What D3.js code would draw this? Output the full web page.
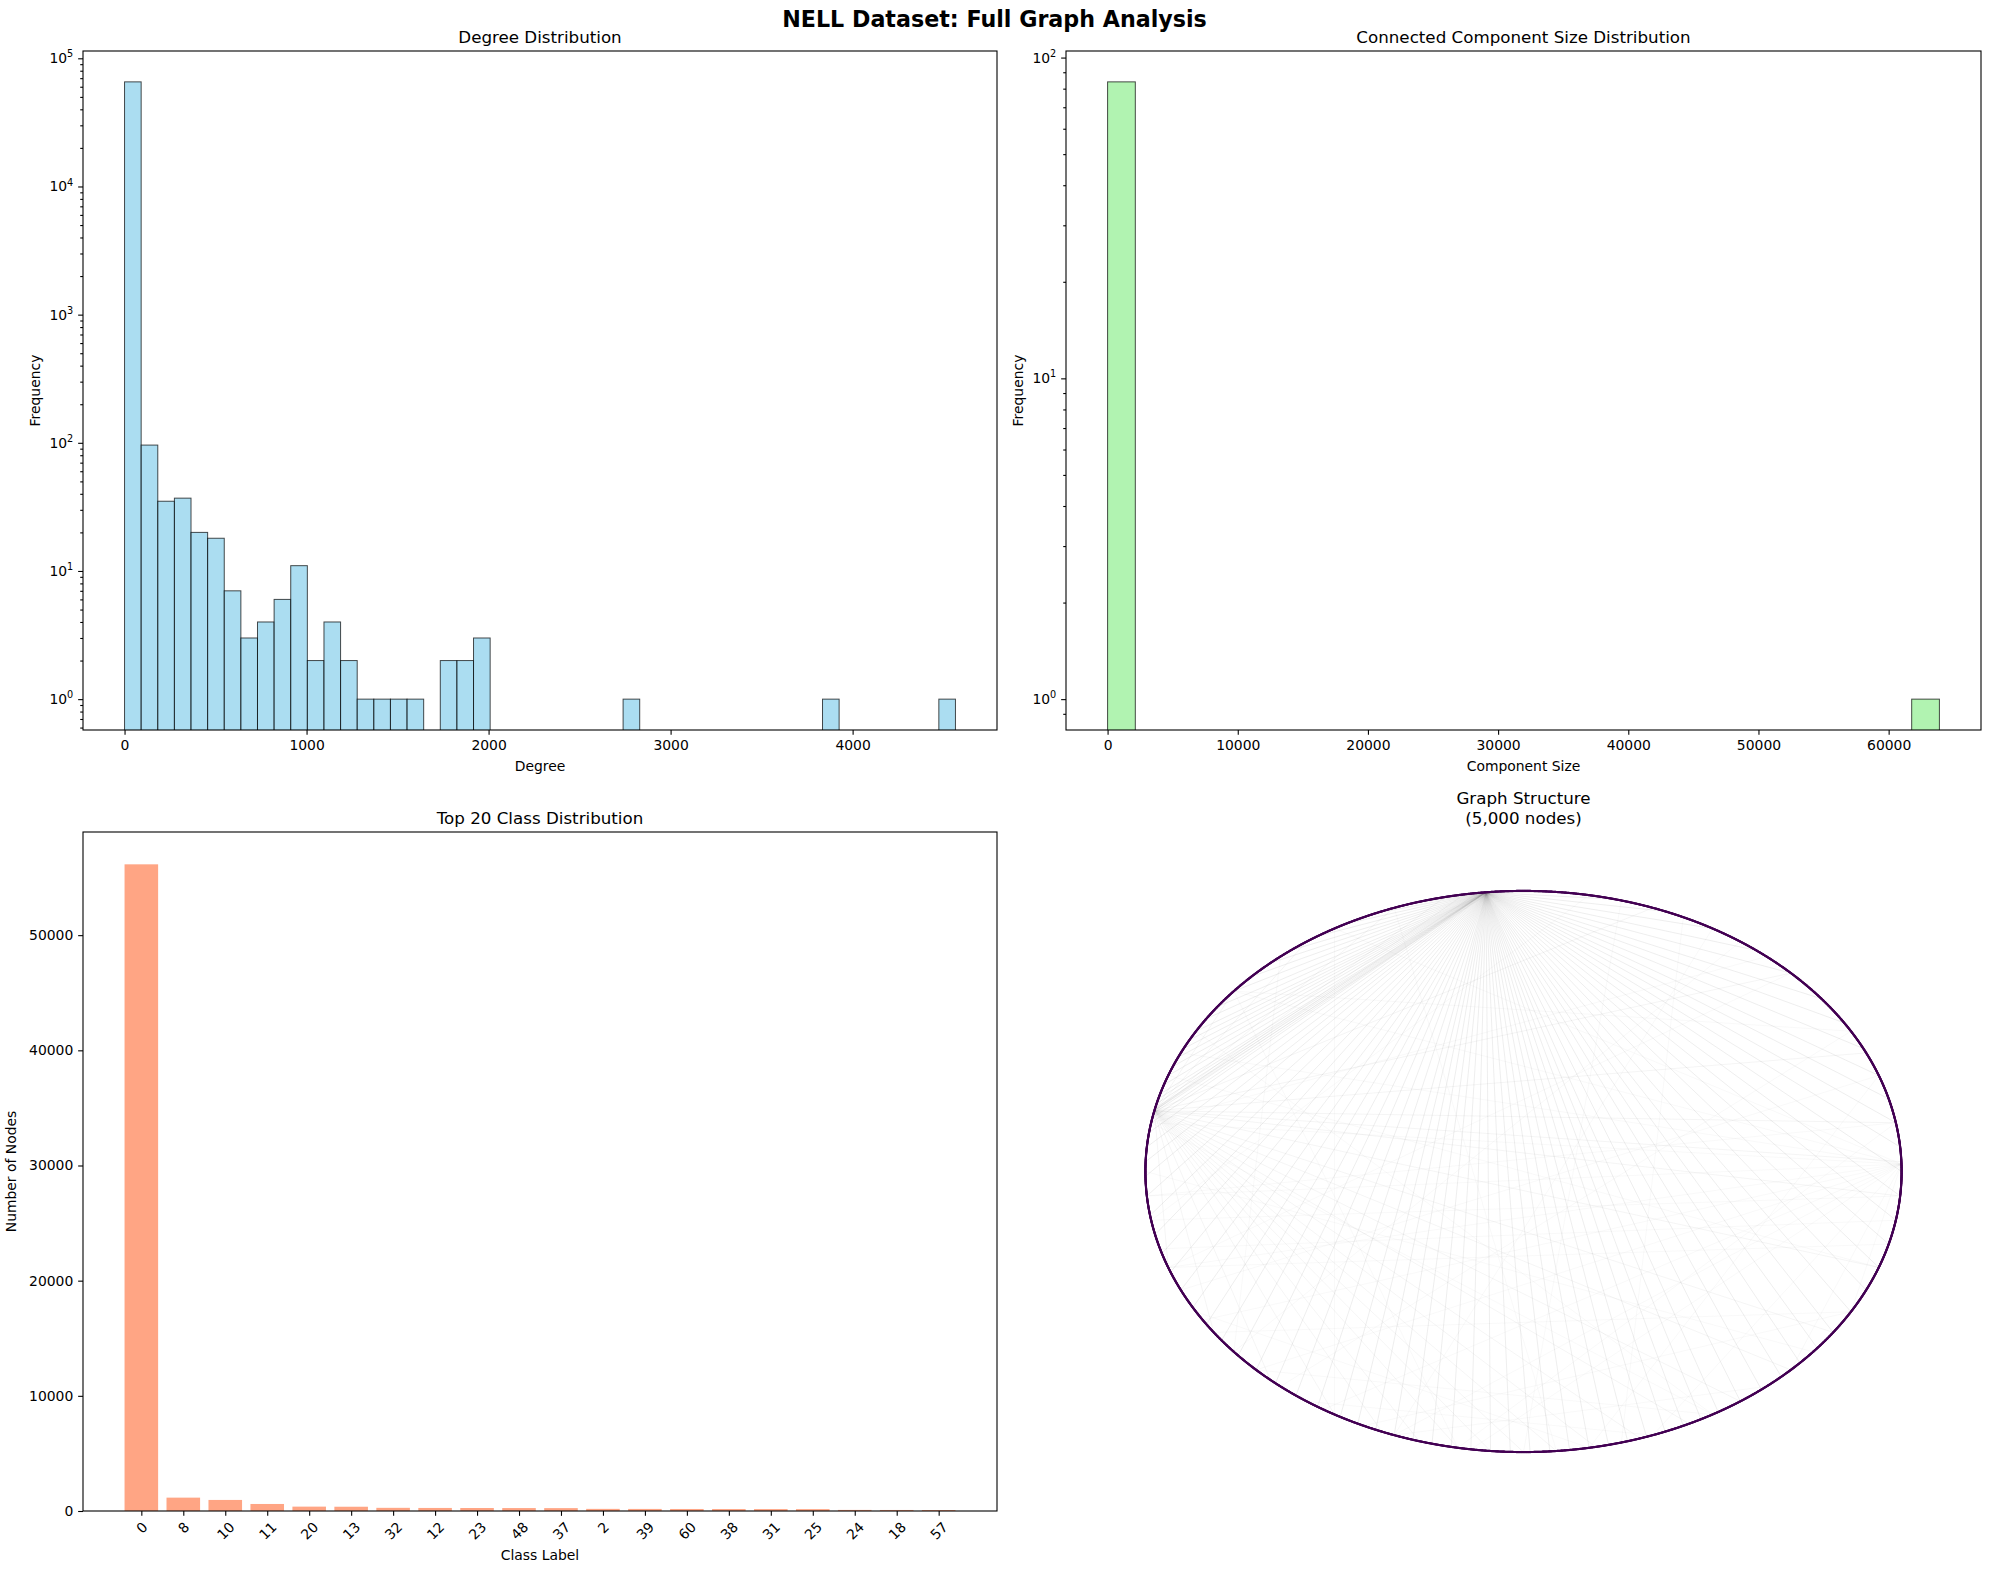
<!DOCTYPE html>
<html lang="en">
<head>
<meta charset="utf-8">
<script src="https://d3js.org/d3.v7.min.js"></script>
<title>NELL Dataset: Full Graph Analysis</title>
<style>
  body { margin: 0; background: #fff; }
  svg { font-family: "DejaVu Sans", sans-serif; }
</style>
</head>
<body>
<div id="chart"></div>
<script>

  // ---- data ----

  // degree histogram: 50 equal bins between min and max degree
  const degreeRange = [0, 4565];
  const degreeCounts = [65496, 96, 35, 37, 20, 18, 7, 3, 4, 6,
                        11, 2, 4, 2, 1, 1, 1, 1, 0, 2,
                        2, 3, 0, 0, 0, 0, 0, 0, 0, 0,
                        1, 0, 0, 0, 0, 0, 0, 0, 0, 0,
                        0, 0, 1, 0, 0, 0, 0, 0, 0, 1];
  const degreeXTicks = [0, 1000, 2000, 3000, 4000];
  const degreeYTicks = [1, 10, 100, 1000, 10000, 100000];

  // connected component sizes: 30 equal bins
  const componentRange = [1, 63900];
  const componentCounts = [84, 0, 0, 0, 0, 0, 0, 0, 0, 0,
                           0, 0, 0, 0, 0, 0, 0, 0, 0, 0,
                           0, 0, 0, 0, 0, 0, 0, 0, 0, 1];
  const componentXTicks = [0, 10000, 20000, 30000, 40000, 50000, 60000];
  const componentYTicks = [1, 10, 100];

  // top 20 classes
  const classLabels = ["0", "8", "10", "11", "20", "13", "32", "12", "23", "48",
                       "37", "2", "39", "60", "38", "31", "25", "24", "18", "57"];
  const classCounts = [56150, 1160, 960, 610, 380, 370, 275, 265, 260, 255,
                       250, 185, 180, 175, 170, 168, 165, 95, 90, 85];
  const classYTicks = [0, 10000, 20000, 30000, 40000, 50000];

  // sampled graph, circular layout: node count and edges as ring positions (degrees)
  const nodeCount = 5000;
  const hubA = 95.7;
  const hubATargets = [100, 104, 108, 113, 118, 123, 128, 132, 136, 140, 144, 147, 150, 152, 154,
                       156, 158, 160, 162, 164, 165, 166, 167, 168, 169, 170, 172, 175, 178, 181,
                       185, 189, 193, 197, 201, 205, 209, 213, 217, 221, 225, 229, 233, 237, 241,
                       244, 247, 250, 253, 256, 259, 262, 265, 268, 271, 274, 277, 280, 283, 286,
                       289, 292, 295, 298, 301, 305, 309, 313, 317, 321, 325, 330, 335, 340, 345,
                       350, 355, 0, 5, 10, 15, 20, 26, 32, 38, 45, 52, 60, 68, 76, 84, 90];
  const hubB = 167.5;
  const hubBTargets = [95, 97, 99, 102, 110, 125, 140, 200, 215, 228, 240, 248, 254, 260, 265,
                       270, 275, 281, 288, 296, 305, 315, 325, 340, 355, 2, 10, 25, 45, 70];
  const hubC = 1.5;
  const hubCTargets = [120, 140, 155, 170, 185, 200, 212, 225, 238, 250, 262, 290, 315, 330];
  const otherEdges = [[200, 345], [185, 10], [215, 330], [140, 260], [225, 300], [160, 340],
                      [120, 240], [60, 250], [45, 200], [30, 230], [75, 270], [250, 310],
                      [210, 280], [170, 300], [190, 355], [80, 190], [130, 220], [20, 280],
                      [10, 260], [50, 170], [196, 350], [205, 20], [180, 320], [235, 290],
                      [110, 275], [150, 300], [245, 330], [55, 220], [65, 285], [140, 30]];

  // ---- layout ----
  const W = 1989, H = 1573;
  const tickLen = 4.86, tickPad = 4.86, tickFont = "13.9px", titleFont = "16.7px";

  const boxDeg = { x0: 83, x1: 997, y0: 51, y1: 730 };
  const boxComp = { x0: 1066, x1: 1981, y0: 51, y1: 730 };
  const boxCls = { x0: 83, x1: 997, y0: 832, y1: 1511 };
  const boxGraph = { x0: 1066, x1: 1981, y0: 832, y1: 1511 };

  const svg = d3.select("#chart")
    .append("svg")
    .attr("width", W)
    .attr("height", H);

  svg.append("rect").attr("width", W).attr("height", H).attr("fill", "#fff");

  const defs = svg.append("defs");
  function clipFor(id, b) {
    defs.append("clipPath").attr("id", id)
      .append("rect")
      .attr("x", b.x0).attr("y", b.y0)
      .attr("width", b.x1 - b.x0).attr("height", b.y1 - b.y0);
    return `url(#${id})`;
  }

  function frame(b) {
    svg.append("rect")
      .attr("x", b.x0).attr("y", b.y0)
      .attr("width", b.x1 - b.x0).attr("height", b.y1 - b.y0)
      .attr("fill", "none").attr("stroke", "#000").attr("stroke-width", 1.1);
  }

  function styleAxis(g) {
    g.attr("font-size", null).attr("font-family", null);
    g.select(".domain").remove();
    g.selectAll(".tick line").attr("stroke", "#000").attr("stroke-width", 1.1);
    g.selectAll("text").attr("fill", "#000")
      .style("font-size", tickFont)
      .style("font-family", "'DejaVu Sans', sans-serif");
  }

  function title(text, cx, y) {
    svg.append("text").attr("x", cx).attr("y", y)
      .attr("text-anchor", "middle")
      .style("font-size", titleFont)
      .text(text);
  }

  function xLabel(text, cx, cy) {
    svg.append("text").attr("x", cx).attr("y", cy).attr("dy", "0.35em")
      .attr("text-anchor", "middle").style("font-size", tickFont).text(text);
  }

  function yLabel(text, cx, cy) {
    svg.append("text").attr("transform", `translate(${cx},${cy}) rotate(-90)`)
      .attr("dy", "0.35em")
      .attr("text-anchor", "middle").style("font-size", tickFont).text(text);
  }

  // log y axis with 10^n labels and minor ticks
  function logYAxis(b, y, majors) {
    const [lo, hi] = y.domain();
    const minors = [];
    for (let e = Math.floor(Math.log10(lo)); e <= Math.ceil(Math.log10(hi)); e++) {
      for (let k = 2; k < 10; k++) {
        const m = k * Math.pow(10, e);
        if (m >= lo && m <= hi) minors.push(m);
      }
    }
    svg.append("g").attr("transform", `translate(${b.x0},0)`)
      .call(d3.axisLeft(y).tickValues(minors).tickSize(2.78).tickFormat(""))
      .call(styleAxis);
    const g = svg.append("g").attr("transform", `translate(${b.x0},0)`)
      .call(d3.axisLeft(y).tickValues(majors).tickSize(tickLen).tickPadding(tickPad).tickFormat(""))
      .call(styleAxis);
    g.selectAll(".tick text").each(function (d) {
      const t = d3.select(this);
      t.append("tspan").text("10");
      t.append("tspan").attr("dy", "-0.6em").style("font-size", "9.7px")
        .text(Math.round(Math.log10(d)));
    });
  }

  function histogram(b, range, counts, ticksX, ticksY, fill, clipId) {
    const span = range[1] - range[0];
    const x = d3.scaleLinear()
      .domain([range[0] - 0.05 * span, range[1] + 0.05 * span])
      .range([b.x0, b.x1]);
    const L = Math.log10(d3.max(counts));
    const y = d3.scaleLog()
      .domain([Math.pow(10, -0.05 * L), Math.pow(10, 1.05 * L)])
      .range([b.y1, b.y0]);
    const bw = span / counts.length;
    const bins = counts.map((c, i) => ({ c, lo: range[0] + i * bw, hi: range[0] + (i + 1) * bw }))
      .filter(d => d.c > 0);

    svg.append("g").attr("clip-path", clipFor(clipId, b))
      .selectAll("rect")
      .data(bins)
      .join("rect")
      .attr("x", d => x(d.lo))
      .attr("y", d => y(d.c))
      .attr("width", d => x(d.hi) - x(d.lo))
      .attr("height", d => b.y1 + 2 - y(d.c))
      .attr("fill", fill)
      .attr("fill-opacity", 0.7)
      .attr("stroke", "#000")
      .attr("stroke-opacity", 0.7)
      .attr("stroke-width", 1);

    svg.append("g").attr("transform", `translate(0,${b.y1})`)
      .call(d3.axisBottom(x).tickValues(ticksX).tickSize(tickLen).tickPadding(tickPad).tickFormat(d3.format("d")))
      .call(styleAxis);
    logYAxis(b, y, ticksY);
    frame(b);
  }

  // suptitle
  svg.append("text")
    .attr("x", W / 2).attr("y", 27)
    .attr("text-anchor", "middle")
    .style("font-size", "22.2px").style("font-weight", "bold")
    .text("NELL Dataset: Full Graph Analysis");

  // ---- panel 1: degree distribution ----
  histogram(boxDeg, degreeRange, degreeCounts, degreeXTicks, degreeYTicks, "skyblue", "clipDeg");
  title("Degree Distribution", (boxDeg.x0 + boxDeg.x1) / 2, boxDeg.y0 - 8.3);
  xLabel("Degree", (boxDeg.x0 + boxDeg.x1) / 2, 765.7);
  yLabel("Frequency", 35, (boxDeg.y0 + boxDeg.y1) / 2);

  // ---- panel 2: component sizes ----
  histogram(boxComp, componentRange, componentCounts, componentXTicks, componentYTicks, "lightgreen", "clipComp");
  title("Connected Component Size Distribution", (boxComp.x0 + boxComp.x1) / 2, boxComp.y0 - 8.3);
  xLabel("Component Size", (boxComp.x0 + boxComp.x1) / 2, 765.7);
  yLabel("Frequency", 1018, (boxComp.y0 + boxComp.y1) / 2);

  // ---- panel 3: top 20 classes ----
  const n = classLabels.length;
  const pad = 0.05 * (n - 1 + 0.8);
  const cx = d3.scaleLinear()
    .domain([-0.4 - pad, n - 1 + 0.4 + pad])
    .range([boxCls.x0, boxCls.x1]);
  const cy = d3.scaleLinear()
    .domain([0, d3.max(classCounts) * 1.05])
    .range([boxCls.y1, boxCls.y0]);

  svg.append("g")
    .selectAll("rect")
    .data(classCounts)
    .join("rect")
    .attr("x", (d, i) => cx(i - 0.4))
    .attr("y", d => cy(d))
    .attr("width", cx(0.4) - cx(-0.4))
    .attr("height", d => cy(0) - cy(d))
    .attr("fill", "coral")
    .attr("fill-opacity", 0.7);

  const clsX = svg.append("g").attr("transform", `translate(0,${boxCls.y1})`)
    .call(d3.axisBottom(cx).tickValues(d3.range(n)).tickSize(tickLen).tickPadding(tickPad)
      .tickFormat(i => classLabels[i]))
    .call(styleAxis);
  clsX.selectAll(".tick text").each(function () {
    const t = d3.select(this);
    const w = this.getComputedTextLength();
    const c = tickLen + tickPad + (w + 11) * 0.707 / 2;
    t.attr("y", c).attr("dy", "0.35em").attr("text-anchor", "middle")
      .attr("transform", `rotate(-45,0,${c})`);
  });

  svg.append("g").attr("transform", `translate(${boxCls.x0},0)`)
    .call(d3.axisLeft(cy).tickValues(classYTicks).tickSize(tickLen).tickPadding(tickPad).tickFormat(d3.format("d")))
    .call(styleAxis);
  frame(boxCls);
  title("Top 20 Class Distribution", (boxCls.x0 + boxCls.x1) / 2, boxCls.y0 - 8.3);
  xLabel("Class Label", (boxCls.x0 + boxCls.x1) / 2, 1555);
  yLabel("Number of Nodes", 11.5, (boxCls.y0 + boxCls.y1) / 2);

  // ---- panel 4: graph structure (circular layout) ----
  const gx = d3.scaleLinear().domain([-1.21, 1.21]).range([boxGraph.x0, boxGraph.x1]);
  const gy = d3.scaleLinear().domain([-1.21, 1.21]).range([boxGraph.y1, boxGraph.y0]);
  const rad = deg => deg * Math.PI / 180;

  // hub edges a bit stronger, the rest fainter
  const edges = [
    ...hubATargets.map(t => [hubA, t, 0.2]),
    ...hubBTargets.map(t => [hubB, t, 0.12]),
    ...hubCTargets.map(t => [hubC, t, 0.08]),
    ...otherEdges.map(e => [e[0], e[1], 0.08])
  ];

  svg.append("g")
    .selectAll("line")
    .data(edges)
    .join("line")
    .attr("x1", d => gx(Math.cos(rad(d[0]))))
    .attr("y1", d => gy(Math.sin(rad(d[0]))))
    .attr("x2", d => gx(Math.cos(rad(d[1]))))
    .attr("y2", d => gy(Math.sin(rad(d[1]))))
    .attr("stroke", "gray")
    .attr("stroke-opacity", d => d[2])
    .attr("stroke-width", 0.7);

  svg.append("g")
    .selectAll("circle")
    .data(d3.range(nodeCount))
    .join("circle")
    .attr("cx", i => gx(Math.cos(2 * Math.PI * i / nodeCount)))
    .attr("cy", i => gy(Math.sin(2 * Math.PI * i / nodeCount)))
    .attr("r", 1.1)
    .attr("fill", "#440154");

  const gt = svg.append("text")
    .attr("text-anchor", "middle")
    .style("font-size", titleFont);
  gt.append("tspan").attr("x", (boxGraph.x0 + boxGraph.x1) / 2).attr("y", boxGraph.y0 - 8.3 - 20)
    .text("Graph Structure");
  gt.append("tspan").attr("x", (boxGraph.x0 + boxGraph.x1) / 2).attr("y", boxGraph.y0 - 8.3)
    .text("(5,000 nodes)");

</script>
</body>
</html>
